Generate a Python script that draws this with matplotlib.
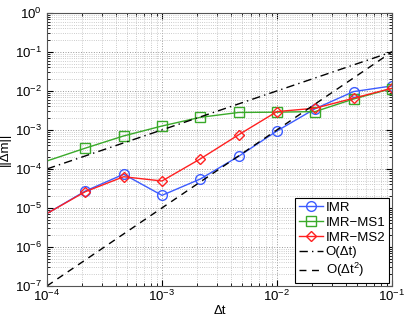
import numpy as np
import matplotlib
matplotlib.use("Agg")
import matplotlib.pyplot as plt

plt.rcParams['font.family'] = ['Liberation Sans', 'DejaVu Sans']
plt.rcParams['mathtext.fontset'] = 'custom'
plt.rcParams['mathtext.rm'] = 'Liberation Sans'
plt.rcParams['mathtext.it'] = 'Liberation Sans'

# time steps (log spaced values)
dt = [1e-4, 2.15e-4, 4.64e-4, 1e-3, 2.15e-3, 4.64e-3, 1e-2, 2.15e-2, 4.64e-2, 1e-1]

# errors
imr = [7.2e-6, 2.7e-5, 7.3e-5, 2.1e-5, 5.5e-5, 2.1e-4, 9.4e-4, 3.5e-3, 9.6e-3, 1.34e-2]
imr_ms1 = [1.6e-4, 3.4e-4, 7.0e-4, 1.26e-3, 2.1e-3, 2.8e-3, 2.85e-3, 2.95e-3, 6.2e-3, 1.15e-2]
imr_ms2 = [7.2e-6, 2.6e-5, 6.3e-5, 4.9e-5, 1.8e-4, 7.5e-4, 2.95e-3, 3.6e-3, 6.5e-3, 1.17e-2]

# reference slopes
ref_x = [1e-4, 1e-1]
ref_first = [1e-4, 1e-1]
ref_second = [1e-7, 1e-1]

fig = plt.figure(figsize=(4.07, 3.22), dpi=100)
ax = fig.add_axes([0.1155, 0.112, 0.8475, 0.848])

mk = dict(markevery=slice(1, None), markerfacecolor='none', linewidth=1, markeredgewidth=1)
ax.loglog(dt, imr, '-o', color='#3d5cff', label='IMR', markersize=7, **mk)
ax.loglog(dt, imr_ms1, '-s', color='#3aaa2a', label='IMR\u2212MS1', markersize=6.5, **mk)
ax.loglog(dt, imr_ms2, '-D', color='#ff2020', label='IMR\u2212MS2', markersize=5.5, **mk)
ax.loglog(ref_x, ref_first, color='black', linestyle=(0, (6, 3, 1, 3)), linewidth=1, label='O(\u0394t)')
ax.loglog(ref_x, ref_second, color='black', linestyle=(0, (5, 4)), linewidth=1, label='O(\u0394t$^2$)')

ax.set_xlim(1e-4, 1e-1)
ax.set_ylim(1e-7, 1e0)
ax.grid(True, which='major', linestyle=':', color='#999999', linewidth=0.7)
ax.grid(True, which='minor', linestyle=':', color='#bbbbbb', linewidth=0.6)
ax.tick_params(which='both', direction='in', top=True, right=True, labelsize=9.5)
ax.tick_params(which='major', length=4)
ax.tick_params(which='minor', length=2)
ax.tick_params(axis='x', pad=2)
for s in ax.spines.values():
    s.set_color('#555555')

ax.set_xlabel('\u0394t', fontsize=9.5, labelpad=1)
ax.set_ylabel('||\u0394m||', fontsize=9.5)
ax.yaxis.set_label_coords(-0.105, 0.5)

leg = ax.legend(loc='lower right', fontsize=9.5, fancybox=False, edgecolor='black',
                framealpha=1, handlelength=1.8, borderaxespad=0.2, labelspacing=0.2,
                handletextpad=0.2, borderpad=0.3, markerscale=1)
leg.get_frame().set_linewidth(0.8)

fig.savefig('out.png', dpi=100)
